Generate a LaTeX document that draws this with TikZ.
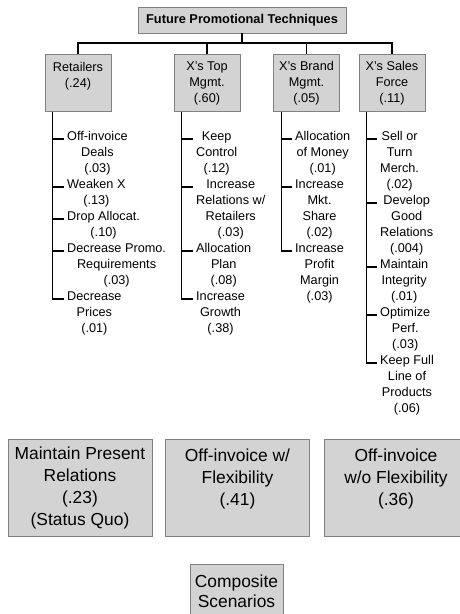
\documentclass[tikz,border=0pt]{standalone}
\usepackage{fontspec}
\setmainfont{Liberation Sans}
\definecolor{boxfill}{HTML}{D3D3D3}
\definecolor{boxline}{HTML}{808080}
\begin{document}
\begin{tikzpicture}[x=1pt,y=-1pt,
  box/.style={draw=boxline, fill=boxfill, line width=0.9pt, align=center},
  crit/.style={box, anchor=north, minimum width=66pt, minimum height=57pt,
    inner sep=0pt, font=\fontsize{12.7}{16}\selectfont},
  % first line gets a fixed height, so its middle sits 7.7pt below the top
  leaf/.style={anchor=north west, yshift=7.7pt, align=center, inner xsep=3pt,
    inner ysep=0pt, font=\fontsize{12.7}{16}\selectfont,
    execute at begin node={\rule{0pt}{11pt}}},
  alt/.style={box, anchor=north, minimum width=144pt, minimum height=97pt,
    inner sep=0pt, font=\fontsize{17.4}{21.7}\selectfont},
  link/.style={draw=black, line width=1.1pt}
]
\useasboundingbox (0,0) rectangle (459,614);

% goal
\node[box, minimum width=208pt, minimum height=26pt, inner sep=0pt,
  font=\bfseries\fontsize{12.8}{15}\selectfont] (goal) at (242,20)
  {Future Promotional Techniques};

% criteria
\node[crit] (ret) at (78,54)    {Retailers\\(.24)\\\mbox{}};
\node[crit] (top) at (207,54)   {X's Top\\Mgmt.\\(.60)};
\node[crit] (brd) at (306.5,54) {X's Brand\\Mgmt.\\(.05)};
\node[crit] (sls) at (392,54)   {X's Sales\\Force\\(.11)};

\foreach \c in {ret,top,brd,sls}
  \draw[link] (goal.south) |- ([yshift=11pt]\c.north) -- (\c.north);

% sub-criteria: retailers
\node[leaf] (r1) at (64,139) {Off-invoice\\Deals\\(.03)};
\node[leaf] (r2) at (64,187) {Weaken X\\(.13)};
\node[leaf] (r3) at (64,219) {Drop Allocat.\\(.10)};
\node[leaf] (r4) at (64,251) {Decrease Promo.\\Requirements\\(.03)};
\node[leaf] (r5) at (64,299) {Decrease\\Prices\\(.01)};

% sub-criteria: top management
\node[leaf] (t1) at (193,139) {Keep\\Control\\(.12)};
\node[leaf] (t2) at (193,187) {Increase\\Relations w/\\Retailers\\(.03)};
\node[leaf] (t3) at (193,251) {Allocation\\Plan\\(.08)};
\node[leaf] (t4) at (193,299) {Increase\\Growth\\(.38)};

% sub-criteria: brand management
\node[leaf] (b1) at (292,139) {Allocation\\of Money\\(.01)};
\node[leaf] (b2) at (292,187) {Increase\\Mkt.\\Share\\(.02)};
\node[leaf] (b3) at (292,251) {Increase\\Profit\\Margin\\(.03)};

% sub-criteria: sales force
\node[leaf] (s1) at (377,139) {Sell or\\Turn\\Merch.\\(.02)};
\node[leaf] (s2) at (377,203) {Develop\\Good\\Relations\\(.004)};
\node[leaf] (s3) at (377,267) {Maintain\\Integrity\\(.01)};
\node[leaf] (s4) at (377,315) {Optimize\\Perf.\\(.03)};
\node[leaf] (s5) at (377,363) {Keep Full\\Line of\\Products\\(.06)};

\foreach \l in {r1,r2,r3,r4,r5}
  \draw[link] ([xshift=8pt]ret.south west) |- ([yshift=-7.7pt]\l.north west);
\foreach \l in {t1,t2,t3,t4}
  \draw[link] ([xshift=8pt]top.south west) |- ([yshift=-7.7pt]\l.north west);
\foreach \l in {b1,b2,b3}
  \draw[link] ([xshift=8pt]brd.south west) |- ([yshift=-7.7pt]\l.north west);
\foreach \l in {s1,s2,s3,s4,s5}
  \draw[link] ([xshift=8pt]sls.south west) |- ([yshift=-7.7pt]\l.north west);

% alternatives
\node[alt] (a1) at (80,439)    {Maintain Present\\Relations\\(.23)\\(Status Quo)};
\node[alt] (a2) at (237.5,439) {Off-invoice w/\\Flexibility\\(.41)\\\mbox{}};
\node[alt] (a3) at (396,439)   {Off-invoice\\w/o Flexibility\\(.36)\\\mbox{}};

% composite
\node[box, anchor=north, minimum width=93pt, inner xsep=0pt, inner ysep=10.5pt,
  font=\fontsize{17.4}{20}\selectfont] (comp) at (236.5,564)
  {Composite\\Scenarios\\\mbox{}};
\end{tikzpicture}
\end{document}
